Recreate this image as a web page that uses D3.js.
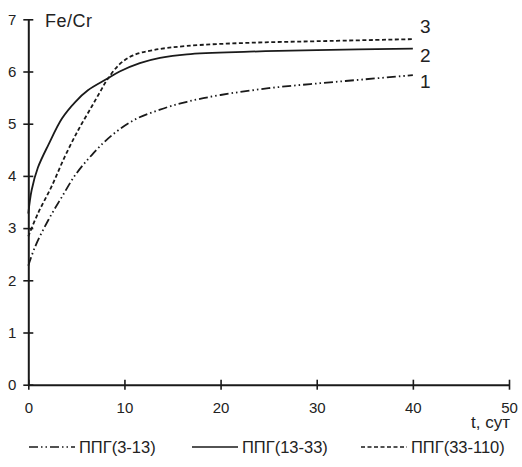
<!DOCTYPE html>
<html>
<head>
<meta charset="utf-8">
<script src="https://cdn.jsdelivr.net/npm/d3@7"></script>
<style>
body { margin: 0; background: #fff; }
text { font-family: "Liberation Sans", Arial, sans-serif; fill: #222; }
</style>
</head>
<body>
<svg id="chart"></svg>
<script>
// data
let xTicks = [0, 10, 20, 30, 40, 50];
let yTicks = [0, 1, 2, 3, 4, 5, 6, 7];

let t1 = [0, 0.7, 2.1, 3.5, 4.9, 6.6, 8.7, 11.1, 13.7, 16.5, 20, 25, 30, 35, 40];
let v1 = [2.28, 2.64, 3.16, 3.6, 4.02, 4.4, 4.78, 5.08, 5.27, 5.42, 5.55, 5.68, 5.77, 5.85, 5.93];

let t2 = [0, 0.35, 1, 2.1, 3.5, 4.9, 6.2, 8.2, 9.5, 11.6, 13.7, 16.5, 23, 30, 40];
let v2 = [3.28, 3.73, 4.16, 4.6, 5.1, 5.42, 5.64, 5.86, 6.0, 6.16, 6.26, 6.33, 6.38, 6.41, 6.44];

let t3 = [0, 1, 2.4, 3.8, 5.2, 6.6, 7.5, 8.2, 9.5, 10.9, 13, 16.5, 23, 30, 40];
let v3 = [2.84, 3.28, 3.79, 4.37, 4.88, 5.33, 5.62, 5.84, 6.14, 6.31, 6.41, 6.49, 6.55, 6.58, 6.62];

let seriesNames = ["ППГ(3-13)", "ППГ(13-33)", "ППГ(33-110)"];
let curveLabels = ["1", "2", "3"];

let width = 522, height = 467;
let x0 = 28.3, x1 = 509, y0 = 384.7, y1 = 19.3;

let svg = d3.select("#chart").attr("width", width).attr("height", height);

let x = d3.scaleLinear().domain([0, 50]).range([x0, x1]);
let y = d3.scaleLinear().domain([0, 7]).range([y0, y1]);

let dashes = ["9,3,1.5,3,1.5,3", null, "4,2.5"];
let series = [
  t1.map((t, i) => [t, v1[i]]),
  t2.map((t, i) => [t, v2[i]]),
  t3.map((t, i) => [t, v3[i]])
];

let line = d3.line()
  .x(d => x(d[0]))
  .y(d => y(d[1]))
  .curve(d3.curveCatmullRom.alpha(0.5));

svg.selectAll("path.curve")
  .data(series)
  .enter()
  .append("path")
  .attr("class", "curve")
  .attr("d", line)
  .attr("fill", "none")
  .attr("stroke", "#1a1a1a")
  .attr("stroke-width", 1.8)
  .attr("stroke-dasharray", (d, i) => dashes[i]);

// axes
let xAxis = svg.append("g").attr("transform", "translate(0," + y0 + ")")
  .call(d3.axisBottom(x).tickValues(xTicks).tickSize(0).tickPadding(18).tickFormat(d3.format("d")));
let yAxis = svg.append("g").attr("transform", "translate(" + x0 + ",0)")
  .call(d3.axisLeft(y).tickValues(yTicks).tickSize(0).tickPadding(12).tickFormat(d3.format("d")));

[xAxis, yAxis].forEach(g => {
  g.select(".domain").attr("stroke", "#1a1a1a").attr("stroke-width", 2);
  g.selectAll("text").attr("font-size", 15).attr("fill", "#222")
    .attr("font-family", "Liberation Sans, Arial, sans-serif");
});
xAxis.selectAll(".tick").append("line")
  .attr("y1", -5).attr("y2", 5).attr("stroke", "#1a1a1a").attr("stroke-width", 1.6);
yAxis.selectAll(".tick").append("line")
  .attr("x1", -5).attr("x2", 5).attr("stroke", "#1a1a1a").attr("stroke-width", 1.6);

svg.append("text").attr("x", 45).attr("y", 27).attr("font-size", 18)
  .attr("letter-spacing", 0.5).text("Fe/Cr");
svg.append("text").attr("x", 510).attr("y", 428).attr("font-size", 17)
  .attr("text-anchor", "end").text("t, сут");

// curve numbers at the right ends
let labelY = [88, 61.5, 33];
svg.selectAll("text.num")
  .data(curveLabels)
  .enter()
  .append("text")
  .attr("class", "num")
  .attr("x", 420)
  .attr("y", (d, i) => labelY[i])
  .attr("font-size", 19)
  .text(d => d);

// legend
let legX = [29, 192, 361];
let legW = [46, 46, 46];
let legend = svg.selectAll("g.leg")
  .data(seriesNames)
  .enter()
  .append("g")
  .attr("class", "leg")
  .attr("transform", (d, i) => "translate(" + legX[i] + ",447)");
legend.append("line")
  .attr("x1", 0).attr("x2", (d, i) => legW[i])
  .attr("stroke", "#1a1a1a").attr("stroke-width", 1.4)
  .attr("stroke-dasharray", (d, i) => dashes[i]);
legend.append("text")
  .attr("x", (d, i) => legW[i] + 4)
  .attr("y", 6)
  .attr("font-size", 16.5)
  .text(d => d);
</script>
</body>
</html>
